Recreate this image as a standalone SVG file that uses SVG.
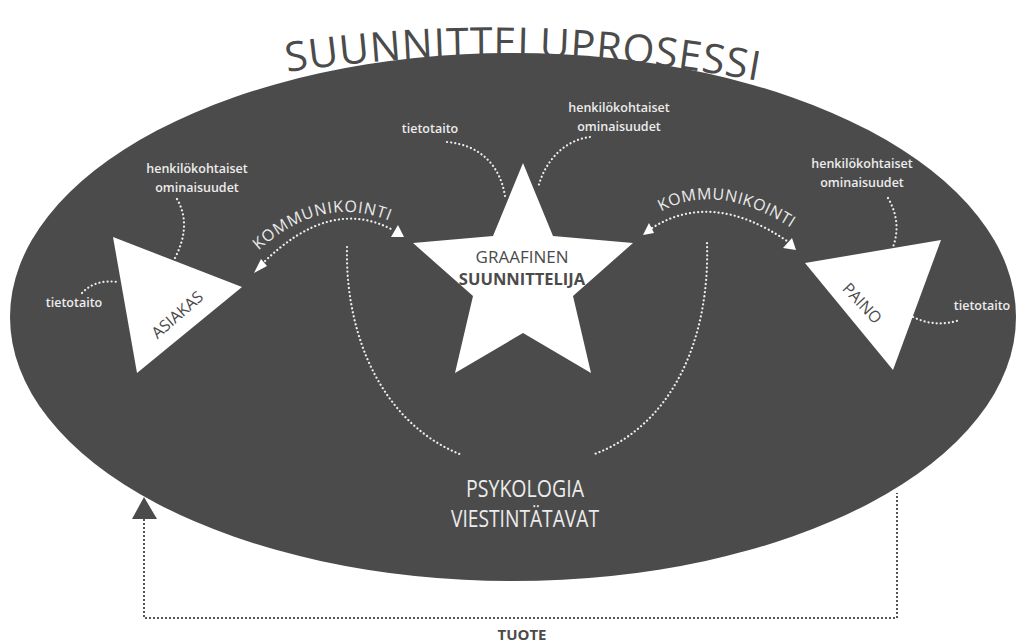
<svg xmlns="http://www.w3.org/2000/svg" width="1017" height="643" viewBox="0 0 1017 643">
<defs>
<style>
.bg{fill:#4b4b4b}
.title{font-family:"Open Sans","Noto Sans",sans-serif;font-size:41px;fill:#4b4b4b}
.lbl{font-family:"Open Sans","Noto Sans",sans-serif;font-size:12.5px;font-weight:600;fill:#ececec;text-anchor:middle}
.comm{font-family:"Open Sans","Noto Sans",sans-serif;font-size:16px;fill:#ececec}
.big{font-family:"Open Sans","Noto Sans",sans-serif;font-size:23px;fill:#ececec;text-anchor:middle}
.dk{font-family:"Open Sans","Noto Sans",sans-serif;fill:#4b4b4b;text-anchor:middle}
.shape{fill:#ffffff}
.dot{fill:none;stroke:#eeeeee;stroke-width:2.2;stroke-dasharray:0.1 4;stroke-linecap:round}
.bdot{fill:none;stroke:#555555;stroke-width:2;stroke-dasharray:2 2}
.head{fill:#ffffff}
</style>
<path id="titlePath" d="M 280 73 Q 520 36 770 83"/>
<path id="commL" d="M 257 252 Q 322 192 392 222"/>
<path id="commR" d="M 660 212 Q 718 180 793 229"/>
</defs>
<rect width="1017" height="643" fill="#ffffff"/>
<g id="prosessi">
<ellipse class="bg" cx="513" cy="317" rx="503" ry="264"/>
<text class="title"><textPath href="#titlePath" startOffset="7" textLength="473" lengthAdjust="spacing">SUUNNITTELUPROSESSI</textPath></text>
</g>
<g id="connectors">
<path class="dot" d="M 82 293 Q 95 279 118 282"/>
<path class="dot" d="M 177 199 Q 192 225 175 258"/>
<path class="dot" d="M 447 142 C 480 145 500 165 505 196"/>
<path class="dot" d="M 590 137 C 565 140 545 160 538 188"/>
<path class="dot" d="M 888 198 Q 902 222 893 247"/>
<path class="dot" d="M 913 317 Q 935 328 960 320"/>
<path class="dot" d="M 262 264 Q 330 196 393 230"/>
<polygon class="head" points="254,273 267,266 261,259"/>
<polygon class="head" points="391,237 404,237 398,225"/>
<path class="dot" d="M 652 228 Q 712 190 787 241"/>
<polygon class="head" points="643,235 654,233 649,223"/>
<polygon class="head" points="783,248 796,250 792,238"/>
<path class="dot" d="M 347 247 C 345 340 385 425 462 455"/>
<path class="dot" d="M 707 243 C 710 335 675 425 592 455"/>
<polygon fill="#4b4b4b" points="144,497 132,519 157,519"/>
<path class="bdot" d="M 144 519 V 618 H 897 V 493"/>
</g>
<g id="asiakas">
<polygon class="shape" points="113,237 242,287 137,373"/>
<text class="dk" font-size="16" transform="translate(181,319) rotate(-41)">ASIAKAS</text>
<text class="lbl" x="74" y="307">tietotaito</text>
<text class="lbl" x="197" y="173">henkilökohtaiset</text>
<text class="lbl" x="197" y="192">ominaisuudet</text>
</g>
<g id="kommunikointi-vasen">
<text class="comm"><textPath href="#commL" startOffset="2" textLength="142" lengthAdjust="spacing">KOMMUNIKOINTI</textPath></text>
</g>
<g id="kommunikointi-oikea">
<text class="comm"><textPath href="#commR" startOffset="1" textLength="138" lengthAdjust="spacing">KOMMUNIKOINTI</textPath></text>
</g>
<g id="suunnittelija">
<polygon class="shape" points="523,163 553,236 633,243 573,296 591,373 523,333 455,373 473,296 413,243 493,236"/>
<text class="dk" x="522" y="263" font-size="17">GRAAFINEN</text>
<text class="dk" x="522" y="285" font-size="16.5" font-weight="700">SUUNNITTELIJA</text>
<text class="lbl" x="430" y="133">tietotaito</text>
<text class="lbl" x="619" y="112">henkilökohtaiset</text>
<text class="lbl" x="619" y="131">ominaisuudet</text>
</g>
<g id="paino">
<polygon class="shape" points="805,263 941,240 893,370"/>
<text class="dk" font-size="16" transform="translate(858,307) rotate(47)">PAINO</text>
<text class="lbl" x="862" y="168">henkilökohtaiset</text>
<text class="lbl" x="862" y="187">ominaisuudet</text>
<text class="lbl" x="982" y="310">tietotaito</text>
</g>
<g id="psykologia">
<text class="big" x="525" y="497" textLength="118" lengthAdjust="spacingAndGlyphs">PSYKOLOGIA</text>
<text class="big" x="525" y="527" textLength="148" lengthAdjust="spacingAndGlyphs">VIESTINTÄTAVAT</text>
</g>
<g id="tuote">
<text class="dk" x="522" y="640" font-size="15" font-weight="700">TUOTE</text>
</g>
</svg>
